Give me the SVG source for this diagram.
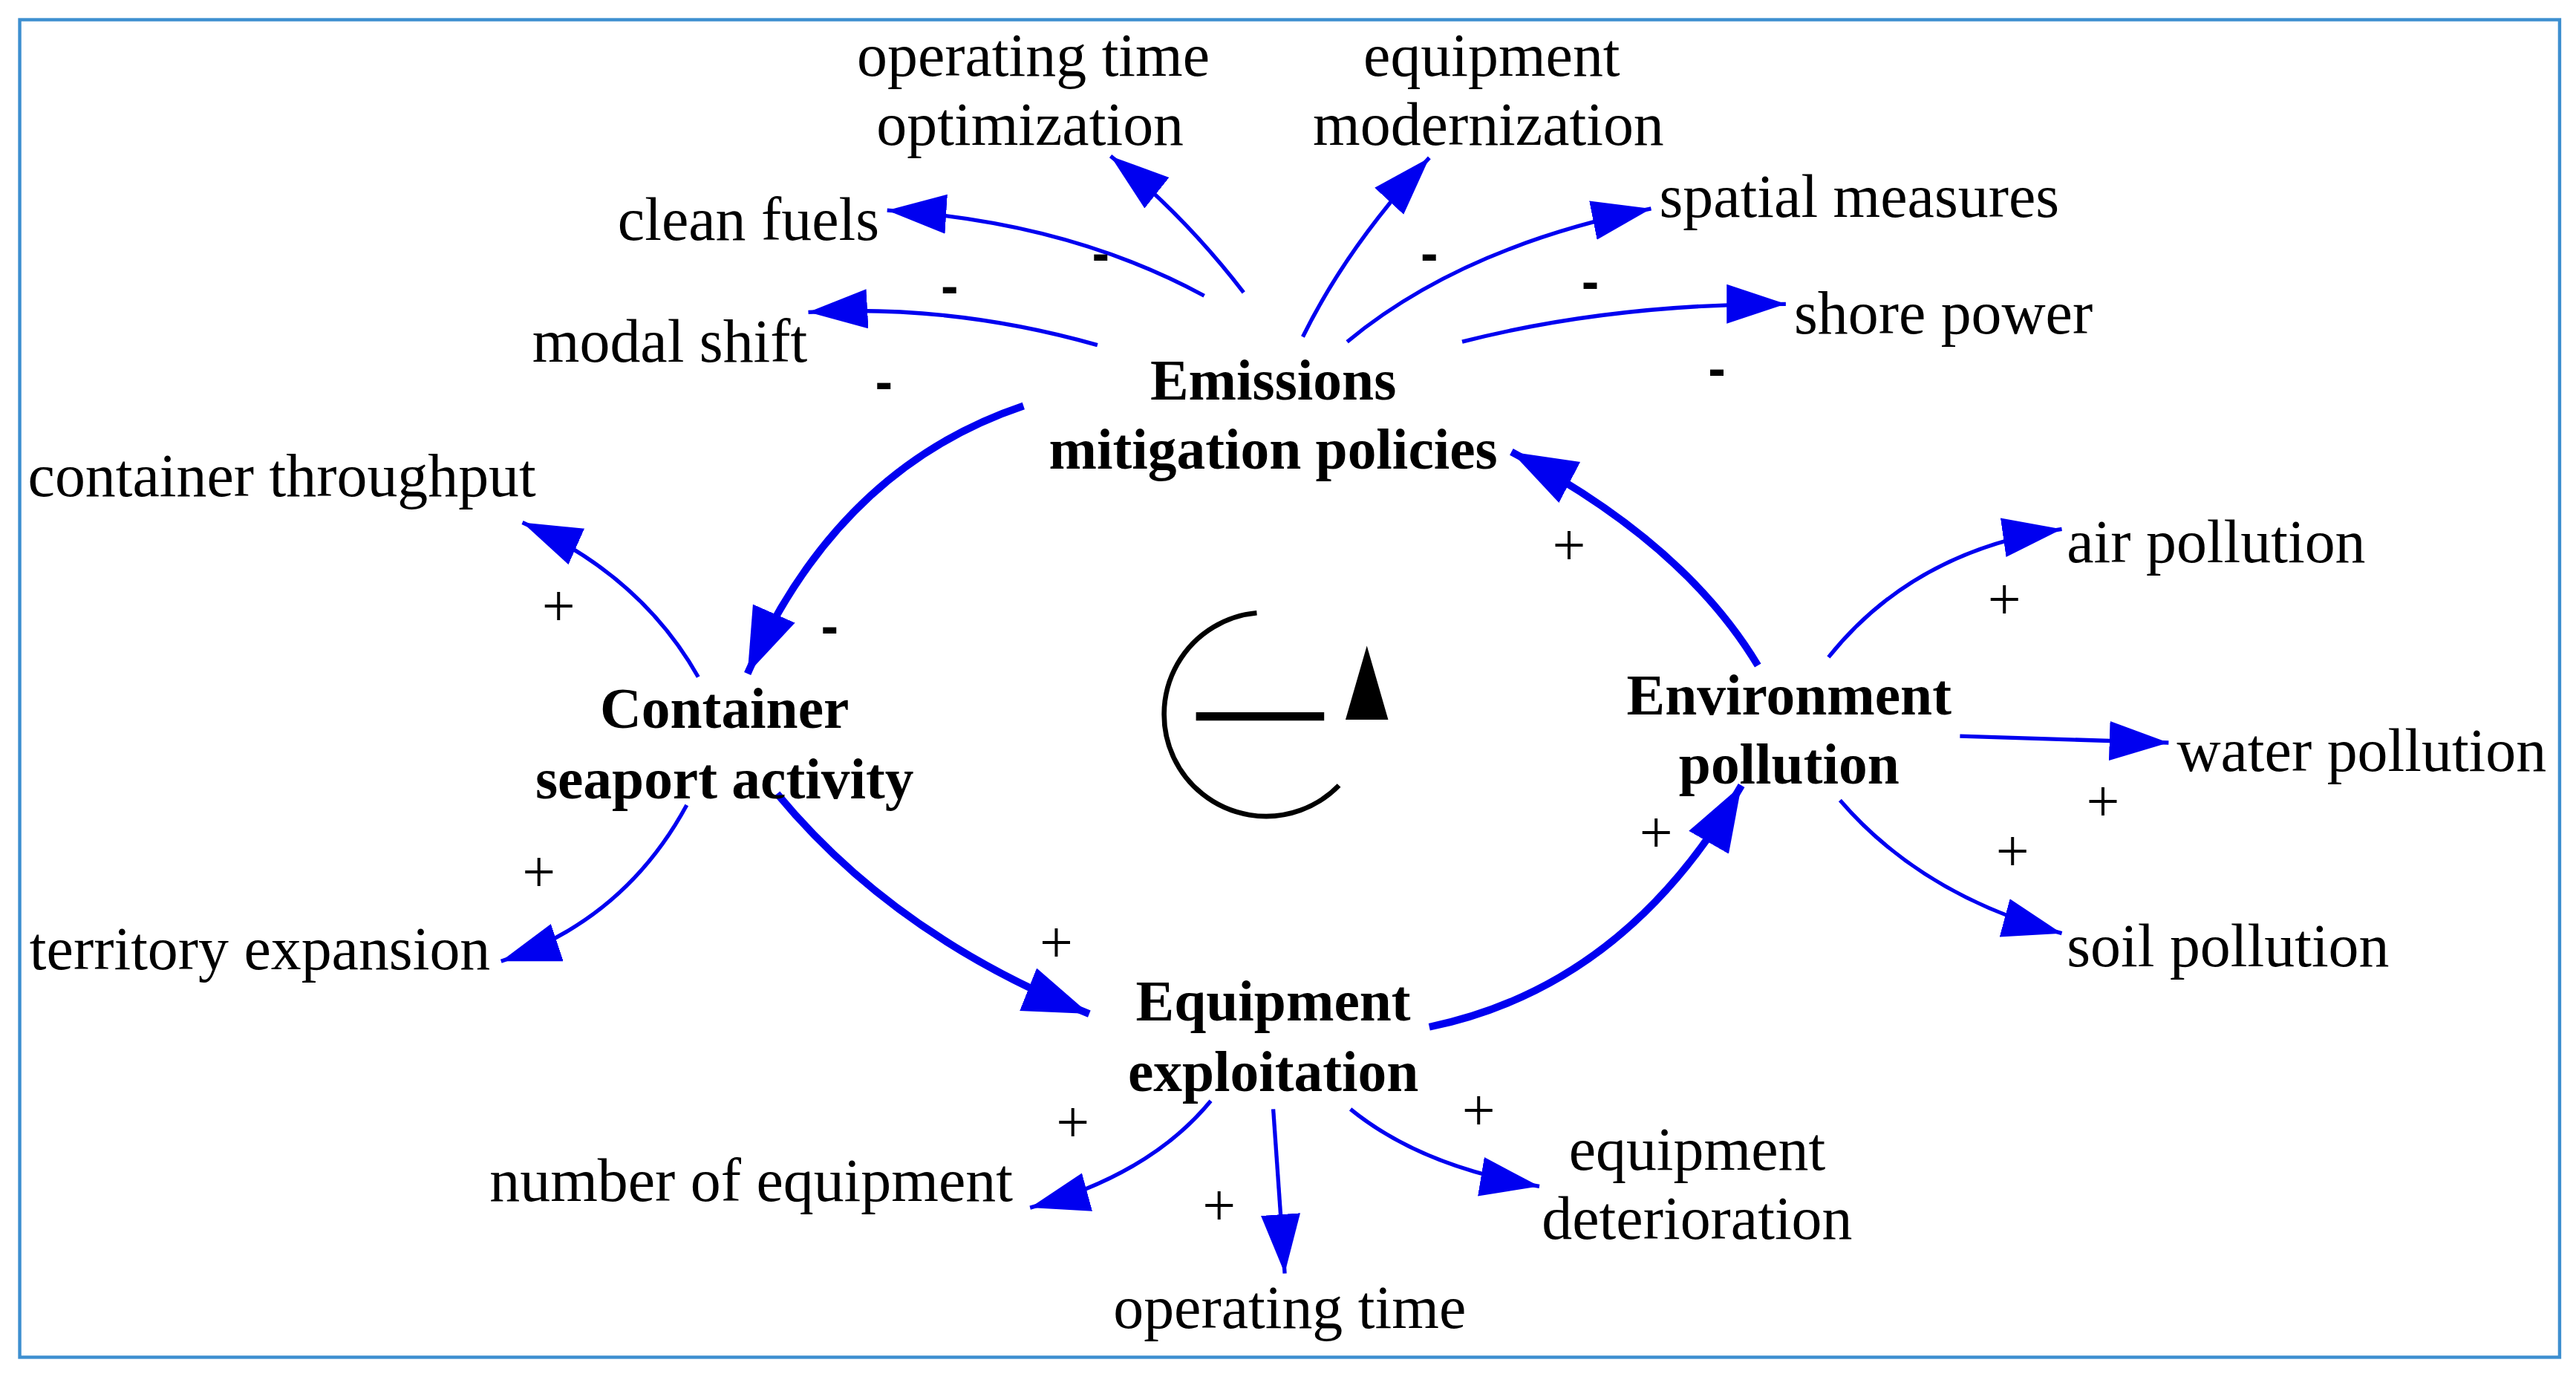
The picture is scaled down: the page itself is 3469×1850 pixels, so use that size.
<svg xmlns="http://www.w3.org/2000/svg" width="3469" height="1850" viewBox="0 0 3469 1850">
<defs>
<style>
text{font-family:"Liberation Serif","Times New Roman",serif;font-size:37px;fill:#000}
.b{font-weight:bold;font-size:35px}
.m{text-anchor:middle}
.s{font-family:"Liberation Sans",Arial,sans-serif;font-weight:bold;font-size:32px}
.p{font-size:36px}
.thin{fill:none;stroke:#0000f0;stroke-width:2.4;marker-end:url(#a)}
.thick{fill:none;stroke:#0000f0;stroke-width:4.5;marker-end:url(#A)}
</style>
<marker id="a" markerUnits="userSpaceOnUse" markerWidth="40" markerHeight="30" refX="36" refY="12" orient="auto"><path d="M0,0 L36,12 L0,24 z" fill="#0000f0"/></marker>
<marker id="A" markerUnits="userSpaceOnUse" markerWidth="44" markerHeight="32" refX="40" refY="14" orient="auto"><path d="M0,0 L40,14 L0,28 z" fill="#0000f0"/></marker>
</defs>
<rect x="0" y="0" width="3469" height="1850" fill="#fff"/>
<g transform="scale(2.2124)">
<rect x="12" y="12" width="1546" height="814" fill="none" stroke="#3d8fd0" stroke-width="2"/>
<g id="connectors">
<path class="thick" d="M623,247 Q510,285 455,410"/>
<path class="thick" d="M473,483 Q545,570 663,617"/>
<path class="thick" d="M870,625 Q990,600 1060,478"/>
<path class="thick" d="M1070,405 Q1025,330 920,275"/>
<path class="thin" d="M668,210 Q580,185 492,190"/>
<path class="thin" d="M733,180 Q650,135 540,128"/>
<path class="thin" d="M757,178 Q720,130 676,95"/>
<path class="thin" d="M793,205 Q820,150 870,96"/>
<path class="thin" d="M820,208 Q890,150 1005,127"/>
<path class="thin" d="M890,208 Q980,185 1087,185"/>
<path class="thin" d="M425,412 Q390,350 318,318"/>
<path class="thin" d="M418,490 Q380,560 305,585"/>
<path class="thin" d="M1113,400 Q1165,335 1255,322"/>
<path class="thin" d="M1193,448 L1320,452"/>
<path class="thin" d="M1120,487 Q1170,545 1255,568"/>
<path class="thin" d="M737,670 Q700,715 627,735"/>
<path class="thin" d="M775,675 L782,775"/>
<path class="thin" d="M822,675 Q865,710 937,722"/>
</g>
<g id="loop">
<path d="M815,478 A62,62 0 1 1 765,373" fill="none" stroke="#000" stroke-width="3" stroke-dasharray="300 8 80"/>
<line x1="728" y1="436" x2="806" y2="436" stroke="#000" stroke-width="5"/>
<path d="M819,438 L832,393 L845,438 z" fill="#000"/>
</g>
<g id="emissions"><text class="b m" x="775" y="243">Emissions</text><text class="b m" x="775" y="285">mitigation policies</text></g>
<g id="container"><text class="b m" x="441" y="443">Container</text><text class="b m" x="441" y="486">seaport activity</text></g>
<g id="environment"><text class="b m" x="1089" y="435">Environment</text><text class="b m" x="1089" y="477">pollution</text></g>
<g id="exploitation"><text class="b m" x="775" y="621">Equipment</text><text class="b m" x="775" y="664">exploitation</text></g>
<g id="opt"><text class="m" x="629" y="46">operating time</text><text class="m" x="627" y="88">optimization</text></g>
<g id="modern"><text class="m" x="908" y="46">equipment</text><text class="m" x="906" y="88">modernization</text></g>
<g id="clean"><text x="376" y="146">clean fuels</text></g>
<g id="spatial"><text x="1010" y="132">spatial measures</text></g>
<g id="modal"><text x="324" y="220">modal shift</text></g>
<g id="shore"><text x="1092" y="203">shore power</text></g>
<g id="throughput"><text x="17" y="302">container throughput</text></g>
<g id="air"><text x="1258" y="342">air pollution</text></g>
<g id="water"><text x="1325" y="469">water pollution</text></g>
<g id="territory"><text x="18" y="590">territory expansion</text></g>
<g id="soil"><text x="1258" y="588">soil pollution</text></g>
<g id="numeq"><text x="298" y="731">number of equipment</text></g>
<g id="deter"><text class="m" x="1033" y="712">equipment</text><text class="m" x="1033" y="754">deterioration</text></g>
<g id="optime"><text class="m" x="785" y="808">operating time</text></g>
<g id="signs">
<text class="s m" x="670" y="165">-</text><text class="s m" x="578" y="185">-</text><text class="s m" x="538" y="243">-</text>
<text class="s m" x="870" y="165">-</text><text class="s m" x="968" y="182">-</text><text class="s m" x="1045" y="235">-</text>
<text class="s m" x="505" y="392">-</text>
<text class="m p" x="340" y="381">+</text><text class="m p" x="328" y="543">+</text><text class="m p" x="643" y="586">+</text>
<text class="m p" x="955" y="344">+</text><text class="m p" x="1008" y="519">+</text><text class="m p" x="1220" y="377">+</text>
<text class="m p" x="1280" y="500">+</text><text class="m p" x="1225" y="530">+</text><text class="m p" x="653" y="695">+</text>
<text class="m p" x="742" y="746">+</text><text class="m p" x="900" y="688">+</text>
</g>
</g>
</svg>
